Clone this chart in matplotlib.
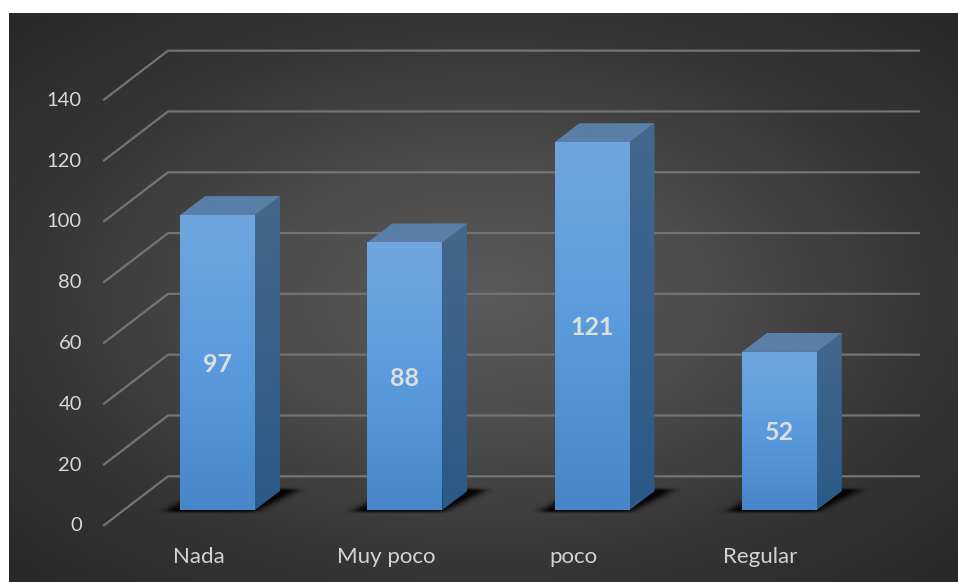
import numpy as np
import matplotlib
matplotlib.use('Agg')
import matplotlib.pyplot as plt
from matplotlib.colors import LinearSegmentedColormap
from matplotlib.patches import Polygon
from matplotlib.path import Path

categories = ['Nada', 'Muy poco', 'poco', 'Regular']
values = [97, 88, 121, 52]
y_ticks = [0, 20, 40, 60, 80, 100, 120, 140]

plt.rcParams['font.family'] = ['Lato', 'DejaVu Sans']

W, H = 958, 582
fig = plt.figure(figsize=(W / 100, H / 100), dpi=100, facecolor='white')

# dark panel with a radial glow
bg = fig.add_axes([9 / W, 0, (W - 9) / W, (H - 13) / H])
yy, xx = np.mgrid[-1:1:300j, -1:1:500j]
r = np.sqrt(xx ** 2 + yy ** 2) / np.sqrt(2)
bg.imshow(r, cmap=LinearSegmentedColormap.from_list('panel', ['#5a5a5a', '#4c4c4c', '#363636', '#282828']),
          aspect='auto', vmin=0, vmax=1, interpolation='bilinear')
bg.axis('off')

# main axes covers the whole figure: 187.3 px per category, 3.04 px per unit
ax = fig.add_axes([0, 0, 1, 1])
ax.patch.set_alpha(0)
ax.set_xlim(-217.5 / 187.3, (W - 217.5) / 187.3)
ax.set_ylim(-72 / 3.04, 510 / 3.04)
ax.axis('off')

half = 0.2  # bar half width
dx, dy = 25 / 187.3, 19 / 3.04  # bar depth
x_front, x_back, x_end = -0.6056, -0.264, 3.745
y_front, y_back = -5.0, 11.1

# gridlines, front diagonal then along the back wall
for t in y_ticks:
    ax.plot([x_front, x_back, x_end], [y_front + t, y_back + t, y_back + t],
            color='#747474', lw=1.6, solid_joinstyle='miter', zorder=1)
    ax.text(x_front - 0.118, y_front + t - 0.2, str(t), ha='right', va='center',
            fontsize=14.5, color='#d9d9d9')


def gradient_poly(pts, colors):
    pts = np.array(pts)
    cmap = LinearSegmentedColormap.from_list('g', colors)
    grad = np.linspace(0, 1, 256).reshape(-1, 1)
    extent = (pts[:, 0].min(), pts[:, 0].max(), pts[:, 1].min(), pts[:, 1].max())
    im = ax.imshow(grad, cmap=cmap, extent=extent, origin='upper', aspect='auto', zorder=3)
    im.set_clip_path(Polygon(pts, closed=True, transform=ax.transData))


def blur(mask, sigma, axis):
    n = int(sigma * 3)
    kernel = np.exp(-0.5 * (np.arange(-n, n + 1) / sigma) ** 2)
    kernel /= kernel.sum()
    return np.apply_along_axis(lambda m: np.convolve(m, kernel, mode='same'), axis, mask)


def floor_shadow(left, right):
    # parallelogram on the floor, blurred mostly sideways
    pts = [(left - 0.08, -0.7), (right, -0.7), (right + dx + 0.1, dy + 0.3), (left + dx, dy + 0.3)]
    x0, x1 = left - 0.25, right + dx + 0.3
    y0, y1 = -5, dy + 5
    nx, ny = int((x1 - x0) * 187.3), int((y1 - y0) * 3.04)
    gx, gy = np.meshgrid(np.linspace(x0, x1, nx), np.linspace(y0, y1, ny))
    inside = Path(pts).contains_points(np.c_[gx.ravel(), gy.ravel()]).reshape(gx.shape).astype(float)
    soft = blur(blur(inside, 6.0, 1), 1.2, 0)
    rgba = np.zeros(gx.shape + (4,))
    rgba[..., 3] = np.clip(soft * 1.1, 0, 0.92)
    ax.imshow(rgba, extent=(x0, x1, y0, y1), origin='lower', aspect='auto', zorder=2)


for i, (cat, v) in enumerate(zip(categories, values)):
    left, right = i - half, i + half

    floor_shadow(left, right)

    gradient_poly([(right, 0), (right + dx, dy), (right + dx, v + dy), (right, v)],
                  ['#44688c', '#2b5a88'])
    gradient_poly([(left, v), (right, v), (right + dx, v + dy), (left + dx, v + dy)],
                  ['#5a7fa8', '#5a7fa8'])
    gradient_poly([(left, 0), (right, 0), (right, v), (left, v)],
                  ['#70a6df', '#5a9bdd', '#4686c9'])

    ax.text(i, v / 2 - 0.6, str(v), ha='center', va='center', fontsize=18,
            fontweight='bold', color='#dedede', zorder=5)
    ax.text(i - 0.1, -15.3, cat, ha='center', va='center', fontsize=16,
            color='#d4d4d4', zorder=5)

ax.set_xlim(-217.5 / 187.3, (W - 217.5) / 187.3)
ax.set_ylim(-72 / 3.04, 510 / 3.04)

plt.savefig('out.png', dpi=100, facecolor='white')
plt.close()
